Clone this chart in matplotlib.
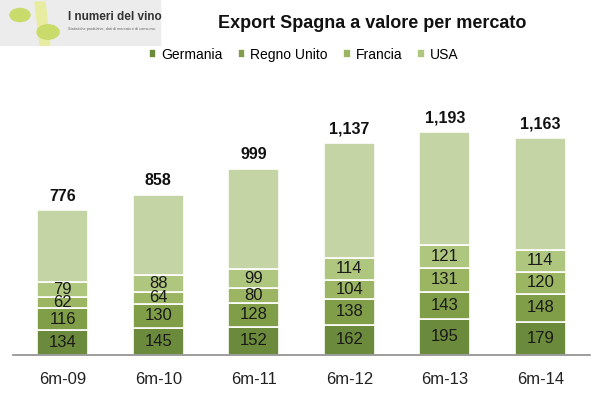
import numpy as np
import matplotlib.pyplot as plt
from matplotlib.patches import Rectangle, Circle, Polygon

plt.rcParams['font.family'] = ['Liberation Sans', 'DejaVu Sans']

periodi = ['6m-09', '6m-10', '6m-11', '6m-12', '6m-13', '6m-14']
germania = [134, 145, 152, 162, 195, 179]
regno_unito = [116, 130, 128, 138, 143, 148]
francia = [62, 64, 80, 104, 131, 120]
usa = [79, 88, 99, 114, 121, 114]
totale = [776, 858, 999, 1137, 1193, 1163]

colori = ['#6c8a3b', '#809d48', '#9bb562', '#afc67f', '#c4d4a5']

fig = plt.figure(figsize=(6.01, 3.95), dpi=100)
ax = fig.add_axes([13/601, 40/395, 577/601, 250/395])

x = np.arange(len(periodi))
serie = [germania, regno_unito, francia, usa]
altri = [t - sum(v) for t, *v in zip(totale, *serie)]
nomi = ['Germania', 'Regno Unito', 'Francia', 'USA']

bottom = np.zeros(len(x))
for vals, col, nome in zip(serie, colori, nomi):
    ax.bar(x, vals, 0.53, bottom=bottom, color=col, edgecolor='white',
           linewidth=1.2, label=nome)
    for xi, b, v in zip(x, bottom, vals):
        ax.text(xi, b + v / 2, str(v), ha='center', va='center',
                fontsize=12, color='#1a1a1a')
    bottom += np.array(vals)
ax.bar(x, altri, 0.53, bottom=bottom, color=colori[4], edgecolor='white',
       linewidth=1.2)

for xi, t in zip(x, totale):
    ax.text(xi, t + 35, '{:,}'.format(t), ha='center', va='bottom',
            fontsize=11.5, fontweight='bold', color='#111111')

ax.set_xlim(-0.52, 5.52)
ax.set_ylim(0, 1340)
for s in ['top', 'right', 'left']:
    ax.spines[s].set_visible(False)
ax.spines['bottom'].set_color('#8c8c8c')
ax.spines['bottom'].set_linewidth(1.2)
ax.set_yticks([])
ax.set_xticks(x)
ax.set_xticklabels(periodi, fontsize=12, color='#222222')
ax.tick_params(axis='x', length=0, pad=12)

fig.text(0.62, 0.94, 'Export Spagna a valore per mercato', ha='center',
         va='center', fontsize=13, fontweight='bold', color='#111111')

leg = fig.legend(loc='center', bbox_to_anchor=(0.505, 0.862), ncol=4,
                 frameon=False, fontsize=10, handlelength=0.55,
                 handleheight=0.55, handletextpad=0.35, columnspacing=1.1)

# logo
fig.patches.append(Rectangle((0, 1 - 45/395), 160/601, 45/395,
                             transform=fig.transFigure, color='#ececec',
                             zorder=0))
fig.patches.append(Polygon([(40/601, 1 - 45/395), (50/601, 1 - 45/395),
                            (45/601, 1 - 2/395), (35/601, 1 - 2/395)],
                           closed=True, transform=fig.transFigure,
                           color='#e8eca0', zorder=1))
fig.patches.append(Circle((20/601, 1 - 15/395), 10/601,
                          transform=fig.transFigure, color='#c9db6a', zorder=2))
fig.patches.append(Circle((48/601, 1 - 32/395), 11/601,
                          transform=fig.transFigure, color='#c9db6a', zorder=2))
fig.text(68/601, 1 - 17/395, 'I numeri del vino', fontsize=8.5,
         fontweight='bold', color='#333333', va='center', ha='left')
fig.text(68/601, 1 - 29/395,
         'Statistiche produttive, dati di mercato e di consumo.',
         fontsize=2.8, color='#666666', va='center', ha='left')

fig.savefig('out.png', dpi=100)
